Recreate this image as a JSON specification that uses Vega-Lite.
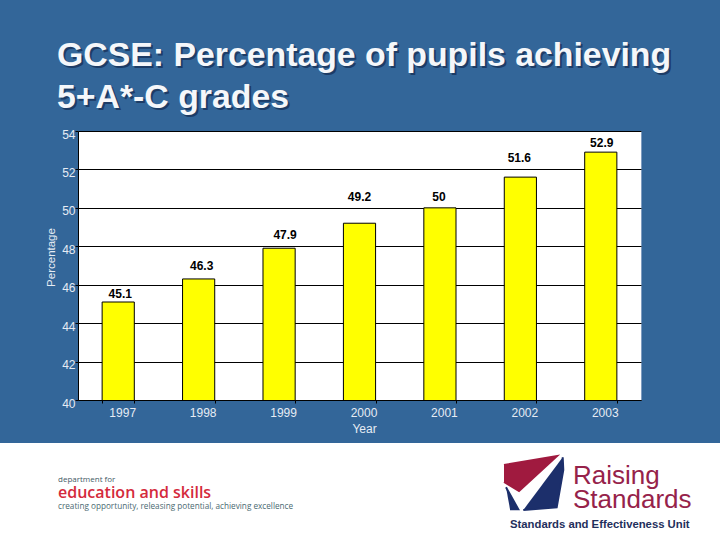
{
  "$schema": "https://vega.github.io/schema/vega-lite/v6.json",
  "background": "#336699",
  "padding": 0,
  "spacing": 0,
  "config": {
    "font": "Liberation Sans",
    "view": {"stroke": null},
    "concat": {"spacing": 0}
  },
  "vconcat": [
    {
      "width": 720,
      "height": 126.5,
      "data": {"values": [
        {"line": "GCSE: Percentage of pupils achieving", "x": 57, "y": 66},
        {"line": "5+A*-C grades", "x": 57, "y": 108}
      ]},
      "encoding": {
        "x": {"field": "x", "type": "quantitative", "scale": {"domain": [0, 720]}, "axis": null},
        "y": {"field": "y", "type": "quantitative", "scale": {"domain": [126.5, 0]}, "axis": null},
        "text": {"field": "line"}
      },
      "layer": [
        {"mark": {"type": "text", "align": "left", "baseline": "alphabetic", "fontSize": 33.8, "fontWeight": "bold", "color": "#1d3c66", "dx": 2, "dy": 2}},
        {"mark": {"type": "text", "align": "left", "baseline": "alphabetic", "fontSize": 33.8, "fontWeight": "bold", "color": "#f5f7fa"}}
      ]
    },
    {
      "bounds": "flush",
      "spacing": 0,
      "hconcat": [
        {"width": 78, "height": 269, "data": {"values": []}, "mark": "point"},
        {
          "width": 563,
          "height": 269,
          "view": {"fill": "white", "stroke": "#7f9cc0"},
          "data": {"values": [
            {"year": "1997", "pct": 45.1},
            {"year": "1998", "pct": 46.3},
            {"year": "1999", "pct": 47.9},
            {"year": "2000", "pct": 49.2},
            {"year": "2001", "pct": 50},
            {"year": "2002", "pct": 51.6},
            {"year": "2003", "pct": 52.9}
          ]},
          "encoding": {
            "x": {
              "field": "year",
              "type": "nominal",
              "title": "Year",
              "scale": {"paddingInner": 0.6, "paddingOuter": 0.3},
              "axis": {
                "labelAngle": 0,
                "labelColor": "#e6ecf4",
                "labelFontSize": 12,
                "labelOffset": 4,
                "labelPadding": 4,
                "tickColor": "black",
                "tickSize": 3,
                "tickBand": "extent",
                "domainColor": "black",
                "titleColor": "#e6ecf4",
                "titleFontSize": 12,
                "titleFontWeight": "normal",
                "titlePadding": 5,
                "titleX": 286
              }
            },
            "y": {
              "field": "pct",
              "type": "quantitative",
              "title": "Percentage",
              "scale": {"domain": [40, 54], "nice": false},
              "axis": {
                "values": [40, 42, 44, 46, 48, 50, 52, 54],
                "grid": true,
                "gridColor": "black",
                "gridWidth": 1,
                "labelColor": "#e6ecf4",
                "labelFontSize": 12,
                "labelOffset": 3,
                "labelPadding": 0,
                "tickColor": "black",
                "tickSize": 3,
                "domainColor": "black",
                "titleColor": "#e6ecf4",
                "titleFontSize": 11.5,
                "titleFontWeight": "normal",
                "titlePadding": 5,
                "titleY": 126
              }
            }
          },
          "layer": [
            {"mark": {"type": "bar", "clip": true, "color": "#ffff00", "stroke": "black", "strokeWidth": 1}},
            {"transform": [{"filter": "datum.year == '1997'"}], "mark": {"type": "text", "fontSize": 12, "fontWeight": "bold", "color": "black", "dx": 2, "dy": -8}, "encoding": {"text": {"field": "pct"}}},
            {"transform": [{"filter": "datum.year == '1998'"}], "mark": {"type": "text", "fontSize": 12, "fontWeight": "bold", "color": "black", "dx": 3, "dy": -13}, "encoding": {"text": {"field": "pct"}}},
            {"transform": [{"filter": "datum.year == '1999'"}], "mark": {"type": "text", "fontSize": 12, "fontWeight": "bold", "color": "black", "dx": 6, "dy": -13}, "encoding": {"text": {"field": "pct"}}},
            {"transform": [{"filter": "datum.year == '2000'"}], "mark": {"type": "text", "fontSize": 12, "fontWeight": "bold", "color": "black", "dx": 0, "dy": -26}, "encoding": {"text": {"field": "pct"}}},
            {"transform": [{"filter": "datum.year == '2001'"}], "mark": {"type": "text", "fontSize": 12, "fontWeight": "bold", "color": "black", "dx": -1, "dy": -11}, "encoding": {"text": {"field": "pct"}}},
            {"transform": [{"filter": "datum.year == '2002'"}], "mark": {"type": "text", "fontSize": 12, "fontWeight": "bold", "color": "black", "dx": -1, "dy": -19}, "encoding": {"text": {"field": "pct"}}},
            {"transform": [{"filter": "datum.year == '2003'"}], "mark": {"type": "text", "fontSize": 12, "fontWeight": "bold", "color": "black", "dx": 1, "dy": -9}, "encoding": {"text": {"field": "pct"}}}
          ]
        }
      ]
    },
    {"width": 720, "height": 8, "data": {"values": []}, "mark": "point"},
    {
      "width": 720,
      "height": 97,
      "view": {"fill": "white", "stroke": null},
      "encoding": {
        "x": {"field": "x", "type": "quantitative", "scale": {"domain": [0, 720]}, "axis": null},
        "y": {"field": "y", "type": "quantitative", "scale": {"domain": [540, 443]}, "axis": null}
      },
      "layer": [
        {
          "data": {"values": [
            {"i": 1, "x": 504, "y": 465},
            {"i": 2, "x": 557, "y": 456},
            {"i": 3, "x": 519, "y": 491},
            {"i": 4, "x": 504, "y": 482}
          ]},
          "mark": {"type": "line", "fill": "#a01a3f", "stroke": "#a01a3f"},
          "encoding": {"order": {"field": "i"}}
        },
        {
          "data": {"values": [
            {"i": 1, "x": 562.7, "y": 457.3},
            {"i": 2, "x": 563.3, "y": 470},
            {"i": 3, "x": 556.7, "y": 507.3},
            {"i": 4, "x": 523.3, "y": 510}
          ]},
          "mark": {"type": "line", "fill": "#1c2f6b", "stroke": "#1c2f6b"},
          "encoding": {"order": {"field": "i"}}
        },
        {
          "data": {"values": [
            {"i": 1, "x": 506, "y": 487.3},
            {"i": 2, "x": 518.3, "y": 509.3},
            {"i": 3, "x": 510, "y": 509.3}
          ]},
          "mark": {"type": "line", "fill": "#1c2f6b", "stroke": "#1c2f6b"},
          "encoding": {"order": {"field": "i"}}
        },
        {
          "data": {"values": [
            {"t": "Raising", "x": 573, "y": 484},
            {"t": "Standards", "x": 573, "y": 508}
          ]},
          "mark": {"type": "text", "align": "left", "baseline": "alphabetic", "fontSize": 26, "color": "#96224a"},
          "encoding": {"text": {"field": "t"}}
        },
        {
          "data": {"values": [{"t": "Standards and Effectiveness Unit", "x": 510, "y": 528}]},
          "mark": {"type": "text", "align": "left", "baseline": "alphabetic", "fontSize": 11.3, "fontWeight": "bold", "color": "#1f2f5c"},
          "encoding": {"text": {"field": "t"}}
        },
        {
          "data": {"values": [{"t": "department for", "x": 58, "y": 482}]},
          "mark": {"type": "text", "align": "left", "baseline": "alphabetic", "font": "Open Sans", "fontSize": 8, "color": "#445a66"},
          "encoding": {"text": {"field": "t"}}
        },
        {
          "data": {"values": [{"t": "education and skills", "x": 58, "y": 498}]},
          "mark": {"type": "text", "align": "left", "baseline": "alphabetic", "font": "Open Sans", "fontSize": 16, "fontWeight": 600, "color": "#d42a3c"},
          "encoding": {"text": {"field": "t"}}
        },
        {
          "data": {"values": [{"t": "creating opportunity, releasing potential, achieving excellence", "x": 58, "y": 509}]},
          "mark": {"type": "text", "align": "left", "baseline": "alphabetic", "font": "Open Sans", "fontSize": 8.2, "color": "#4a6a72"},
          "encoding": {"text": {"field": "t"}}
        }
      ]
    }
  ]
}
